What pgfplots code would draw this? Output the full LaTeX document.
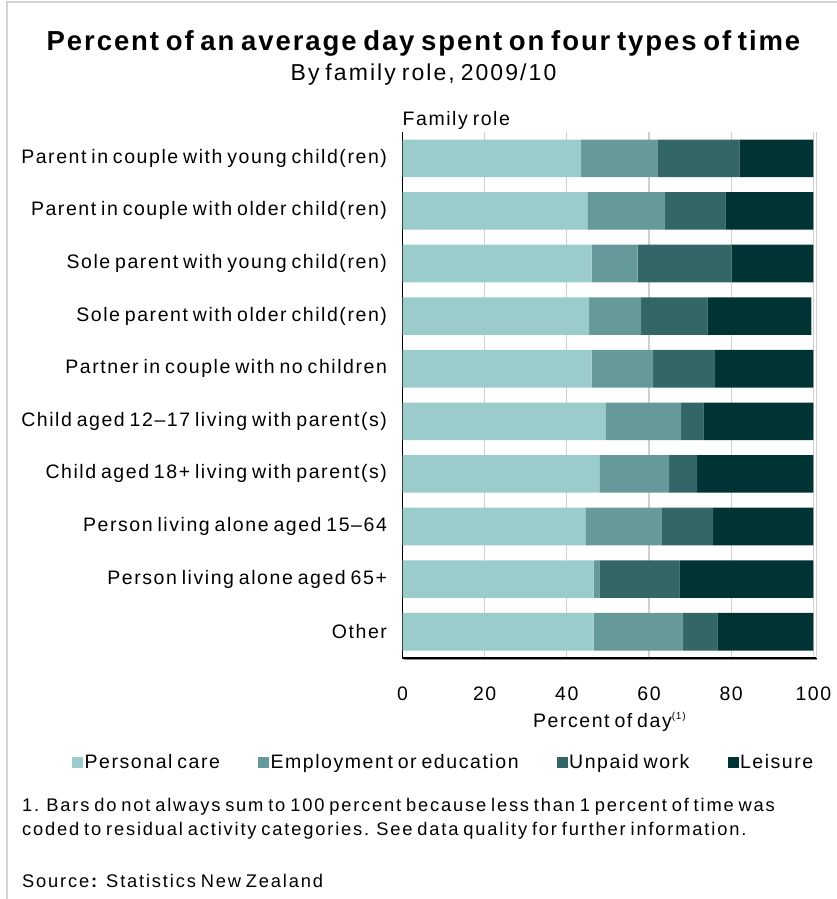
\documentclass[border=0pt]{standalone}
\usepackage{fontspec}
\setmainfont{Liberation Sans}[LetterSpace=8, WordSpace=0.7]
\usepackage{pgfplots}
\usepackage{pgfplotstable}
\pgfplotsset{compat=1.18}

\definecolor{care}{HTML}{9BCCCC}
\definecolor{empl}{HTML}{669999}
\definecolor{unpaid}{HTML}{336666}
\definecolor{leisure}{HTML}{003333}
\definecolor{frame}{HTML}{D4D4D4}
\definecolor{gridc}{HTML}{D0D0D0}

% Percent of an average day, by family role (rows top to bottom)
\pgfplotstableread{
idx care emp unpaid leisure
0 43.5 18.5 20.0 18.0
1 45.0 18.9 14.7 21.4
2 46.0 11.2 22.9 19.9
3 45.4 12.7 16.1 25.3
4 46.0 15.0 15.1 23.9
5 49.4 18.4 5.4 26.8
6 47.9 17.0 6.8 28.3
7 44.5 18.5 12.6 24.4
8 46.5 1.4 19.5 32.6
9 46.5 21.8 8.3 23.4
}\roles

\newcommand{\txt}{\fontsize{19.5bp}{23bp}\selectfont}
\newcommand{\note}{\fontsize{18.3bp}{22bp}\selectfont\addfontfeatures{LetterSpace=10}}

\begin{document}
\begin{tikzpicture}
\useasboundingbox (0bp,0bp) rectangle (837bp,-899bp);
% outer frame
\draw[frame, line width=2bp] (7bp,-899bp) -- (7bp,-2bp) -- (837bp,-2bp);

% titles
\node[anchor=base, font=\bfseries\fontsize{27.5bp}{31bp}\selectfont\addfontfeatures{LetterSpace=7}] at (423.5bp,-50bp)
  {Percent of an average day spent on four types of time};
\node[anchor=base, font=\fontsize{23bp}{27bp}\selectfont\addfontfeatures{LetterSpace=9}] at (423.5bp,-80bp)
  {By family role, 2009/10};

\begin{axis}[
  at={(402.5bp,-658bp)}, anchor=south west,
  scale only axis, width=414.2bp, height=526bp,
  clip=false,
  xbar stacked, bar width=0.715,
  xmin=0, xmax=100.8, ymin=-0.5, ymax=9.5,
  y dir=reverse,
  xtick={0,20,...,100},
  ytick={0,...,9},
  yticklabels={
    Parent in couple with young child(ren),
    Parent in couple with older child(ren),
    Sole parent with young child(ren),
    Sole parent with older child(ren),
    Partner in couple with no children,
    Child aged 12–17 living with parent(s),
    Child aged 18+ living with parent(s),
    Person living alone aged 15–64,
    Person living alone aged 65+,
    Other},
  major tick length=0pt,
  axis line style={draw=none},
  xmajorgrids, grid style={gridc, line width=1.2bp},
  /pgf/number format/assume math mode=true,
  tick label style={font=\txt},
  yticklabel style={anchor=east, xshift=-12bp},
  xticklabel style={anchor=base, yshift=-42bp},
  xlabel={Percent of day\textsuperscript{\fontsize{10bp}{12bp}\selectfont (1)}},
  xlabel style={font=\txt, anchor=base, at={(rel axis cs:0.5,0)}, yshift=-69bp},
  legend columns=4,
  legend style={draw=none, fill=none, font=\txt,
    at={(rel axis cs:-0.798,-0.198)}, anchor=west,
    inner sep=0pt, row sep=0pt,
    /tikz/every even column/.append style={column sep=36.5bp},
    nodes={inner sep=1.5bp}},
  legend image code/.code={\fill[#1] (0bp,-5.5bp) rectangle (11bp,5.5bp);},
  legend cell align=left,
]
\addplot[fill=care, draw=none] table[x=care, y=idx] {\roles};
\addplot[fill=empl, draw=none] table[x=emp, y=idx] {\roles};
\addplot[fill=unpaid, draw=none] table[x=unpaid, y=idx] {\roles};
\addplot[fill=leisure, draw=none] table[x=leisure, y=idx] {\roles};
\legend{Personal care, Employment or education, Unpaid work, Leisure}

% axis frame: dark left and bottom, light right side
\draw[gridc, line width=1.2bp] (rel axis cs:1,0) -- (rel axis cs:1,1);
\draw[black!45, line width=1bp] ([xshift=1.5bp,yshift=-1.5bp]rel axis cs:0,0) -- ([yshift=-1.5bp]rel axis cs:1,0);
\draw[black, line width=1.5bp] (rel axis cs:0,1) -- (rel axis cs:0,0) -- (rel axis cs:1,0);
\node[anchor=base west, font=\txt, inner sep=0pt] at (rel axis cs:0,1) [yshift=7bp] {Family role};
\end{axis}

% notes
\node[anchor=base west, font=\note, inner sep=0pt] at (22bp,-811bp)
  {1. Bars do not always sum to 100 percent because less than 1 percent of time was};
\node[anchor=base west, font=\note, inner sep=0pt] at (22bp,-835bp)
  {coded to residual activity categories. See data quality for further information.};
\node[anchor=base west, font=\note, inner sep=0pt] at (22bp,-887bp)
  {Source\textbf{:} Statistics New Zealand};
\end{tikzpicture}
\end{document}
